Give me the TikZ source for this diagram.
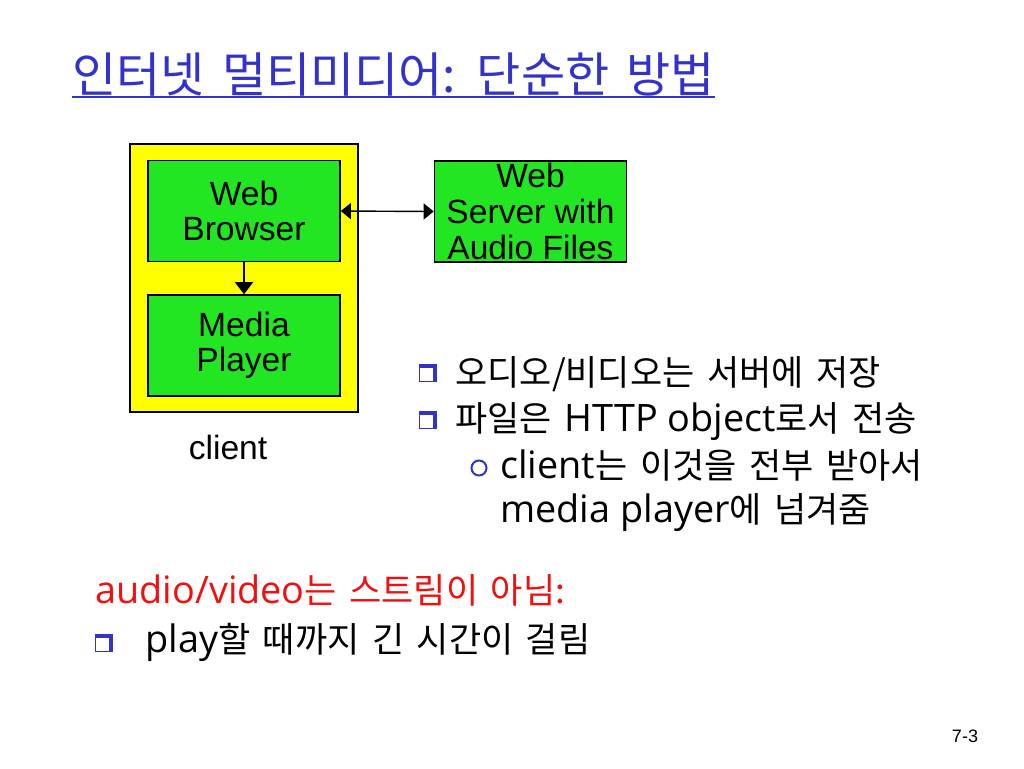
\documentclass[tikz,border=0pt]{standalone}
\usepackage{fontspec}
\setmainfont{Liberation Sans}
\newfontfamily\kr[WordSpace=1.6]{Noto Sans CJK KR}
\newfontfamily\cs[Scale=1.08]{Open Sans}
\newcommand\en[1]{{\cs #1}}
\definecolor{boxgreen}{HTML}{22E622}
\definecolor{clientyel}{HTML}{FFFF00}
\definecolor{titleblue}{HTML}{3333CC}
\definecolor{bulletblue}{HTML}{3333CC}
\definecolor{alertred}{HTML}{F01010}
\usetikzlibrary{arrows.meta,positioning}

\begin{document}
\begin{tikzpicture}[
    x=0.5pt,y=-0.5pt,
    gx/.style={draw=black,line width=0.8pt,fill=boxgreen,minimum width=96pt,minimum height=50.5pt,
      inner sep=0pt,align=center,font=\fontsize{16.8}{17.8}\selectfont},
    yx/.style={draw=black,line width=0.6pt,fill=clientyel,minimum width=114pt,minimum height=134pt,
      inner sep=0pt},
    tx/.style={anchor=base west,inner sep=0pt,font=\kr\fontsize{17.5}{20}\selectfont},
    sq/.style={fill=bulletblue,minimum size=8.8pt,inner sep=0pt,
      path picture={\fill[white]
        ([xshift=0.6pt,yshift=0.6pt]path picture bounding box.south west) rectangle
        ([xshift=-1.8pt,yshift=-1.8pt]path picture bounding box.north east);}},
    ci/.style={circle,draw=bulletblue,line width=1pt,minimum size=7.5pt,inner sep=0pt},
    ar/.style={-{Triangle[length=6pt,width=9pt]},line width=0.7pt},
    ar2/.style={{Triangle[length=5pt,width=8pt]}-{Triangle[length=5pt,width=8pt]},line width=0.7pt},
  ]
    \useasboundingbox[fill=white] (0,0) rectangle (1024,768);

    % title
    \node[tx,font=\kr\fontsize{24}{28}\selectfont,text=titleblue] (title) at (72,92)
      {인터넷 멀티미디어: 단순한 방법};
    \draw[titleblue,line width=1pt]
      ([yshift=-2.5pt]title.base west) -- ([yshift=-2.5pt]title.base east);

    % client side and server
    \node[yx] (client) at (244,278) {};
    \node[gx] (browser) at (244,211) {Web\\Browser};
    \node[gx] (player) at (244,345.5) {Media\\Player};
    \node[gx] (server) at (530.5,211.5) {Web\\Server with\\Audio Files};
    \node[font=\fontsize{16.8}{17.8}\selectfont] (clientlbl) at (228,447) {client};

    \draw[ar] (browser) -- (player);
    \draw[ar2] (browser.east) -- (server.west);

    % bullets
    \node[sq] (b1) at (428,373) {};
    \node[tx] (l1) at (455,385) {오디오/비디오는 서버에 저장};
    \node[sq] (b2) at (428,420) {};
    \node[tx] (l2) at (455,431) {파일은 \en{HTTP object}로서 전송};
    \node[ci] (b3) at (479,468) {};
    \node[tx] (l3) at (500,478) {\en{client}는 이것을 전부 받아서};
    \node[tx] (l4) at (500,522) {\en{media player}에 넘겨줌};

    \node[tx,text=alertred] (alert) at (95,603) {\en{audio/video}는 스트림이 아님:};
    \node[sq] (b4) at (104,643) {};
    \node[tx] (l5) at (145,652) {\en{play}할 때까지 긴 시간이 걸림};

    \node[font=\fontsize{9}{11}\selectfont] (page) at (965,736) {7-3};
  \end{tikzpicture}
\end{document}
